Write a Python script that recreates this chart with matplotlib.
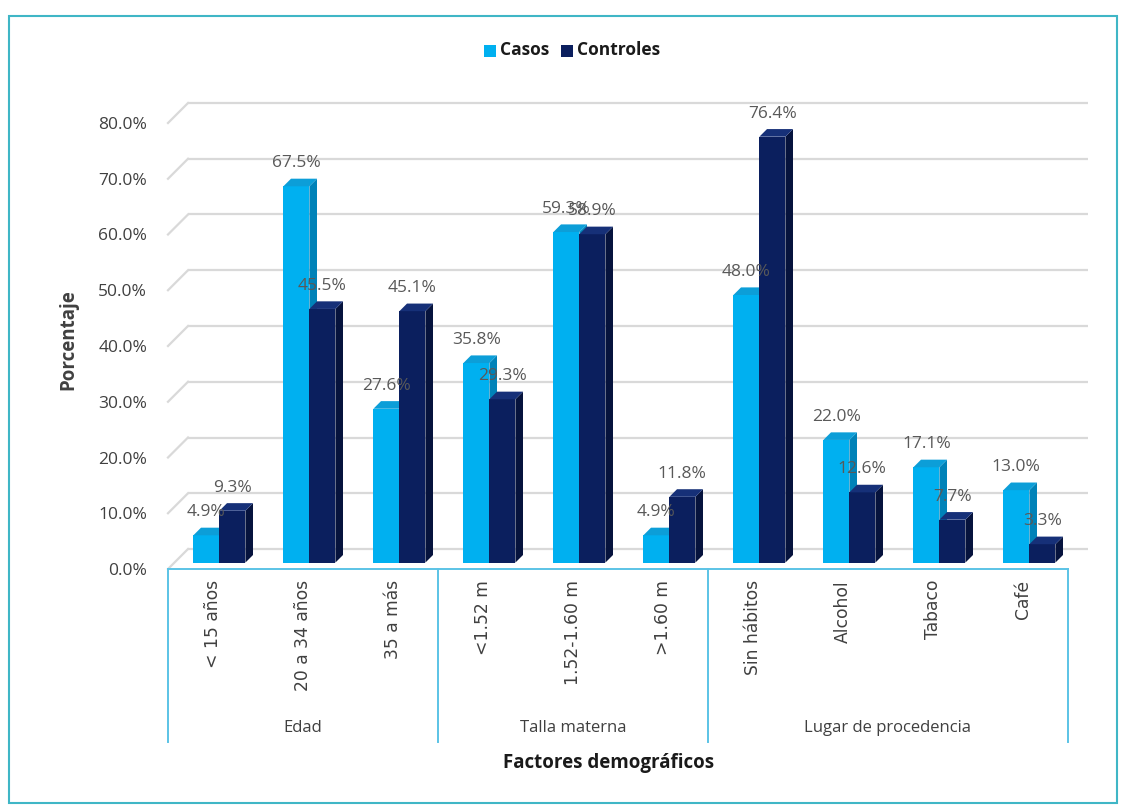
import matplotlib
matplotlib.use("Agg")
import matplotlib.pyplot as plt
from matplotlib.patches import Polygon, Rectangle
import numpy as np

# ---- data ----
categories = ["< 15 años", "20 a 34 años", "35 a más",
              "<1.52 m", "1.52-1.60 m", ">1.60 m",
              "Sin hábitos", "Alcohol", "Tabaco", "Café"]
groups = ["Edad", "Talla materna", "Lugar de procedencia"]
group_sizes = [3, 3, 4]
casos = [4.9, 67.5, 27.6, 35.8, 59.3, 4.9, 48.0, 22.0, 17.1, 13.0]
controles = [9.3, 45.5, 45.1, 29.3, 58.9, 11.8, 76.4, 12.6, 7.7, 3.3]
series_names = ["Casos", "Controles"]
yticks = [0, 10, 20, 30, 40, 50, 60, 70, 80]

# ---- styling ----
W, H = 1125, 806
fig = plt.figure(figsize=(W / 100, H / 100), dpi=100)
fig.patch.set_facecolor("white")

FONT = "Open Sans"
TXT = "#404040"
VAL = "#595959"
GRID = "#D9D9D9"
AXC = "#5BC3E6"

light = dict(front="#00B0F0", side="#0082B8", top="#0C9ED8")
dark = dict(front="#0B1F5E", side="#06133D", top="#163078")

# axes placed in pixel terms (front plane)
x0px, x1px = 168, 1068
y0px, y80px = 569, 123
ax = fig.add_axes([x0px / W, (H - y0px) / H, (x1px - x0px) / W, (y0px - y80px) / H])
ax.set_xlim(-0.5, len(categories) - 0.5)
ax.set_ylim(0, 80)
ax.set_facecolor("none")

px_per_cat = (x1px - x0px) / len(categories)
px_per_pct = (y0px - y80px) / 80.0
DX = 20 / px_per_cat      # depth offset along x (category units)
DY = 20 / px_per_pct      # depth offset along y (percent units)

# back wall gridlines and left wall diagonals
xs_left = -0.5
xs_right = len(categories) - 0.5
for v in yticks:
    ax.plot([xs_left + DX, xs_right + DX], [v + DY, v + DY], color=GRID, lw=1.6,
            clip_on=False, zorder=1, solid_capstyle="butt")
    ax.plot([xs_left, xs_left + DX], [v, v + DY], color=GRID, lw=1.6,
            clip_on=False, zorder=1)

# 3D-looking bars
bw = 26 / px_per_cat
d0, d1 = 0.32, 0.70


def bar3d(xl, val, col, z):
    xr = xl + bw
    fx, fy = d0 * DX, d0 * DY
    bx, by = d1 * DX, d1 * DY
    front = [(xl + fx, fy), (xr + fx, fy), (xr + fx, val + fy), (xl + fx, val + fy)]
    side = [(xr + fx, fy), (xr + bx, by), (xr + bx, val + by), (xr + fx, val + fy)]
    top = [(xl + fx, val + fy), (xr + fx, val + fy), (xr + bx, val + by), (xl + bx, val + by)]
    ax.add_patch(Polygon(side, closed=True, facecolor=col["side"], edgecolor="none",
                         zorder=z, clip_on=False))
    ax.add_patch(Polygon(front, closed=True, facecolor=col["front"], edgecolor="none",
                         zorder=z + 0.1, clip_on=False))
    ax.add_patch(Polygon(top, closed=True, facecolor=col["top"], edgecolor="none",
                         zorder=z + 0.2, clip_on=False))


x = np.arange(len(categories))
for i in range(len(categories)):
    bar3d(x[i] - bw, casos[i], light, 3)
    bar3d(x[i], controles[i], dark, 4)

# value labels
lab_dx = 0.07
lab_dy = 5.3
for i in range(len(categories)):
    ax.text(x[i] - bw / 2 + lab_dx, casos[i] + lab_dy, f"{casos[i]:.1f}%",
            ha="center", va="center", fontsize=12.5, color=VAL, family=FONT, zorder=6)
    ax.text(x[i] + bw / 2 + lab_dx, controles[i] + lab_dy, f"{controles[i]:.1f}%",
            ha="center", va="center", fontsize=12.5, color=VAL, family=FONT, zorder=6)

# y axis
ax.set_yticks(yticks)
ax.set_yticklabels([f"{v:.1f}%" for v in yticks], family=FONT, fontsize=12.5, color=TXT)
ax.tick_params(axis="y", length=0, pad=15)
for s in ["left", "right", "top"]:
    ax.spines[s].set_visible(False)
ax.spines["bottom"].set_color(AXC)
ax.spines["bottom"].set_linewidth(1.4)

# x axis: category labels
ax.set_xticks(x)
ax.set_xticklabels(categories, rotation=90, family="DejaVu Sans", fontsize=12.3,
                   color=TXT, va="top", ha="center")
ax.tick_params(axis="x", length=0, pad=8)

# group boxes and labels
tr = ax.get_xaxis_transform()
box_bottom = -(742 - y0px) / (y0px - y80px)
glabel_y = -(728 - y0px) / (y0px - y80px)
edges = np.concatenate([[0], np.cumsum(group_sizes)]) - 0.5
for e in edges:
    ax.plot([e, e], [0, box_bottom], color=AXC, lw=1.4, transform=tr, clip_on=False)
for g, a, b in zip(groups, edges[:-1], edges[1:]):
    ax.text((a + b) / 2, glabel_y, g, transform=tr, ha="center", va="center",
            fontsize=12, color=TXT, family=FONT)

# axis titles
ax.text(0.5 * (xs_left + xs_right) - 0.1, -(763 - y0px) / (y0px - y80px),
        "Factores demográficos", transform=tr, ha="center", va="center",
        fontsize=13.5, fontweight="bold", color="#1a1a1a", family=FONT)
fig.text(68 / W, 1 - 340 / H, "Porcentaje", rotation=90, ha="center", va="center",
         fontsize=13.5, fontweight="bold", color=TXT, family=FONT)

# legend
fig.patches.append(Rectangle((484 / W, 1 - 57 / H), 12 / W, 12 / H, transform=fig.transFigure,
                             facecolor=light["front"], edgecolor="none"))
fig.text(500 / W, 1 - 50 / H, series_names[0], ha="left", va="center", fontsize=12.5,
         fontweight="bold", color="#1a1a1a", family=FONT)
fig.patches.append(Rectangle((561 / W, 1 - 57 / H), 12 / W, 12 / H, transform=fig.transFigure,
                             facecolor=dark["front"], edgecolor="none"))
fig.text(577 / W, 1 - 50 / H, series_names[1], ha="left", va="center", fontsize=12.5,
         fontweight="bold", color="#1a1a1a", family=FONT)

# outer frame
fig.patches.append(Rectangle((8.5 / W, 1 - 803 / H), (1117 - 8.5) / W, (803 - 16) / H,
                             transform=fig.transFigure, facecolor="none",
                             edgecolor="#3FB6C6", lw=1.5))

fig.savefig("out.png", dpi=100, facecolor="white")
